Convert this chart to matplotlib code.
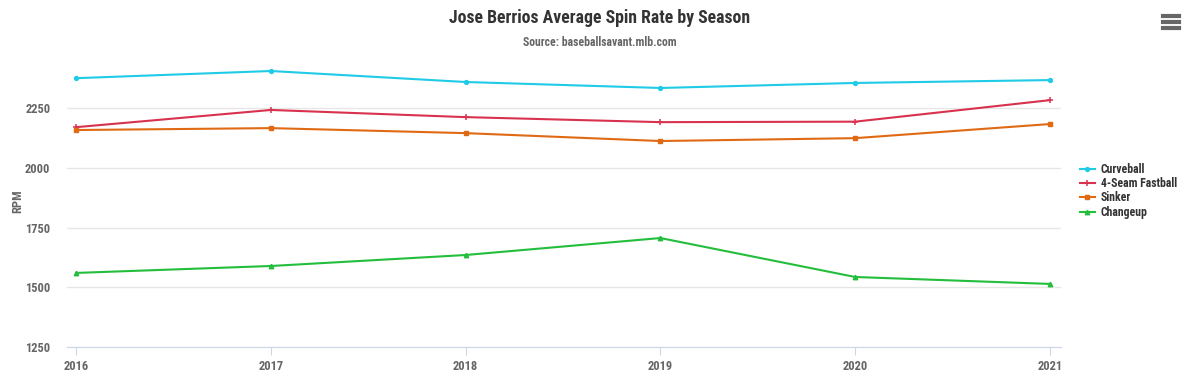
import matplotlib.pyplot as plt
from matplotlib.lines import Line2D

seasons = [2016, 2017, 2018, 2019, 2020, 2021]
curveball = [2375, 2405, 2359, 2334, 2355, 2367]
fastball = [2170, 2242, 2212, 2191, 2193, 2283]
sinker = [2158, 2166, 2145, 2112, 2124, 2183]
changeup = [1560, 1589, 1635, 1706, 1543, 1514]
yticks = [1250, 1500, 1750, 2000, 2250]

plt.rcParams['font.family'] = ['Roboto Condensed', 'Liberation Sans Narrow', 'Roboto', 'DejaVu Sans']

fig = plt.figure(figsize=(12, 3.72), dpi=100)
ax = fig.add_axes([67/1200, 1-347/372, (1061-67)/1200, (347-55)/372])

ax.plot(seasons, curveball, color='#1fcbe6', lw=1.5, marker='o', ms=2.8, label='Curveball')
ax.plot(seasons, fastball, color='#d8324f', lw=1.5, marker='+', ms=4.5, mew=1.1, label='4-Seam Fastball')
ax.plot(seasons, sinker, color='#e06a14', lw=1.5, marker='s', ms=3.2, label='Sinker')
ax.plot(seasons, changeup, color='#22be3c', lw=1.5, marker='^', ms=3.2, label='Changeup')

ax.set_xlim(2016 - 0.047, 2021 + 0.057)
ax.set_ylim(1250, 2472)
ax.set_xticks(seasons)
ax.set_yticks(yticks)
ax.tick_params(axis='y', length=0, labelsize=9, labelcolor='#666666', pad=12)
ax.tick_params(axis='x', length=6, color='#ccd6eb', labelsize=9, labelcolor='#666666', pad=3)
for lab in ax.get_xticklabels() + ax.get_yticklabels():
    lab.set_fontweight('bold')
ax.grid(axis='y', color='#e6e6e6', lw=1)
ax.set_axisbelow(True)
for s in ['top', 'right', 'left']:
    ax.spines[s].set_visible(False)
ax.spines['bottom'].set_color('#ccd6eb')
ax.set_ylabel('RPM', fontsize=9, fontweight='bold', color='#666666')
ax.yaxis.set_label_coords(-0.043, 0.5)

fig.text(0.5, 1-18/372, 'Jose Berrios Average Spin Rate by Season', ha='center', va='center',
         fontsize=12.8, fontweight='bold', color='#333333')
fig.text(0.5, 1-42/372, 'Source: baseballsavant.mlb.com', ha='center', va='center',
         fontsize=8.5, fontweight='bold', color='#666666')

leg = ax.legend(loc='center left', bbox_to_anchor=(1.008, 0.535), frameon=False,
                fontsize=8.5, handlelength=1.3, labelspacing=0.12, handletextpad=0.5)
for t in leg.get_texts():
    t.set_fontweight('bold')
    t.set_color('#333333')

# menu icon
for yy in [16, 22, 28]:
    fig.add_artist(Line2D([1163/1200, 1179/1200], [1-yy/372, 1-yy/372], color='#666666', lw=3))

fig.savefig('out.png', dpi=100)
